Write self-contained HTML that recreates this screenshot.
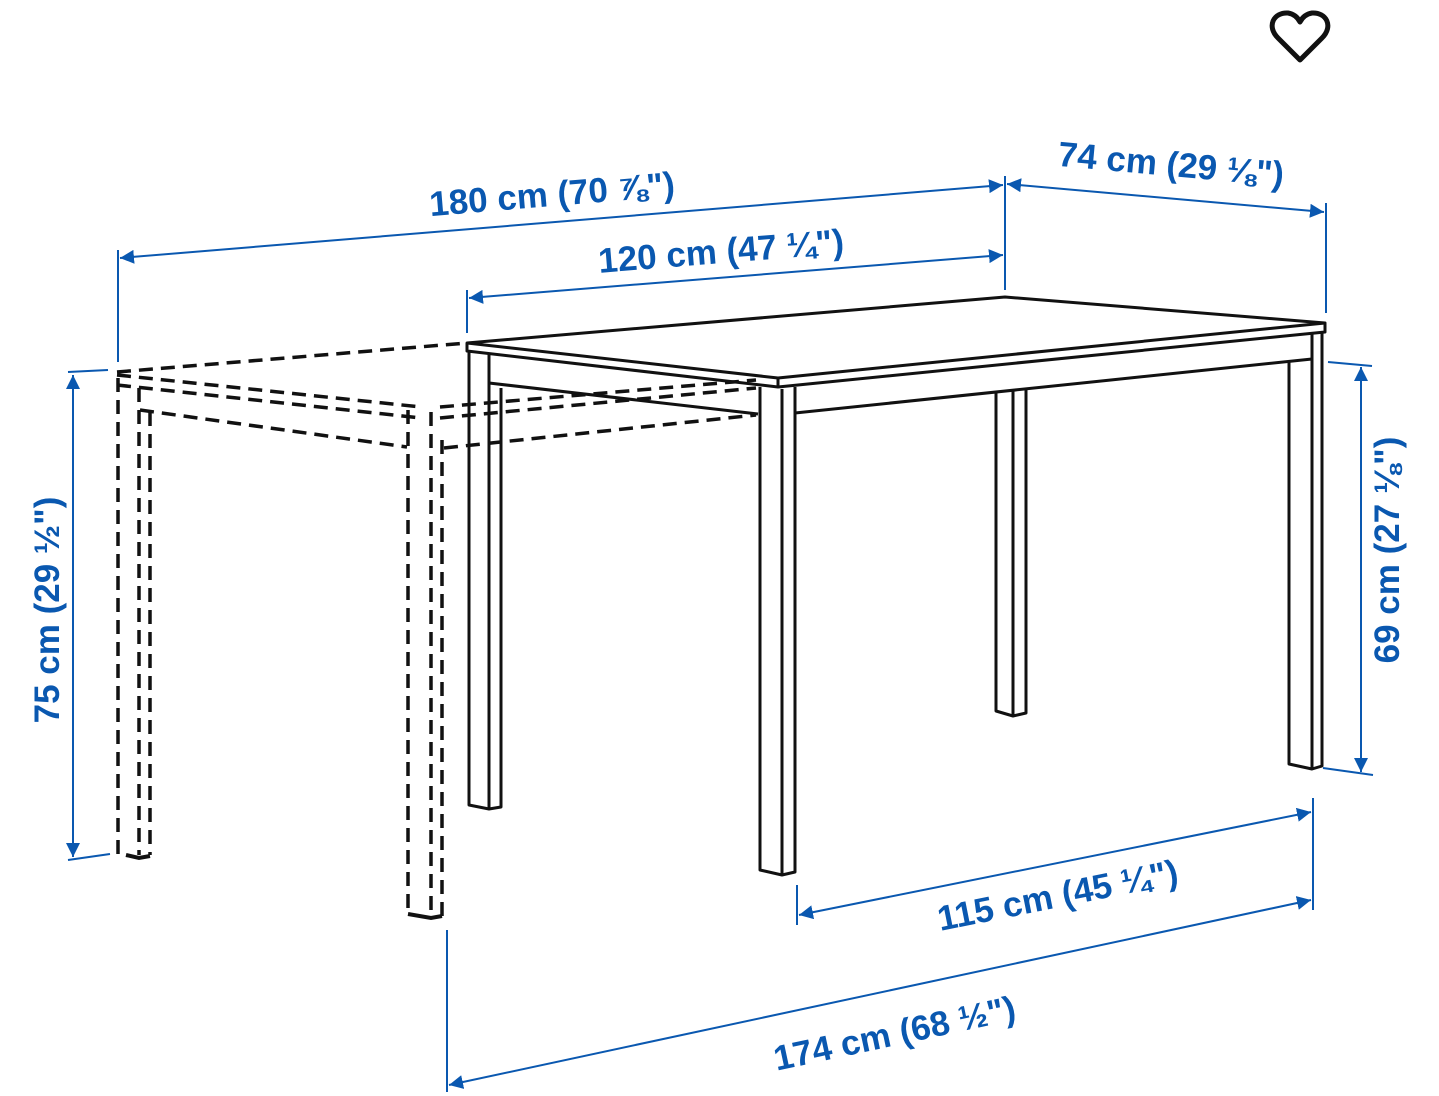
<!DOCTYPE html>
<html><head><meta charset="utf-8"><style>
html,body{margin:0;padding:0;background:#fff;width:1439px;height:1096px;overflow:hidden}
svg{display:block}
text{font-family:"Liberation Sans",sans-serif;font-weight:bold;font-size:35px;fill:#0a58b0}
</style></head><body>
<svg width="1439" height="1096" viewBox="0 0 1439 1096" xmlns="http://www.w3.org/2000/svg">
<defs>
<marker id="a" viewBox="0 0 10 10" refX="10" refY="5" markerWidth="14" markerHeight="14" markerUnits="userSpaceOnUse" orient="auto-start-reverse"><path d="M0,0L10,5L0,10z" fill="#0a58b0"/></marker>
</defs>
<path d="M1300,60 L1278,38 C1266,26 1274,12 1288,13 C1294,14 1298,18 1300,22 C1302,18 1306,14 1312,13 C1326,12 1334,26 1322,38 Z" fill="none" stroke="#111" stroke-width="5" stroke-linejoin="round"/>

<g stroke="#0a58b0" stroke-width="2" fill="none">
<line x1="118" y1="250" x2="118" y2="362"/>
<line x1="1005" y1="176" x2="1005" y2="290"/>
<line x1="467" y1="290" x2="467" y2="333"/>
<line x1="1326" y1="203" x2="1326" y2="313"/>
<line x1="120" y1="258" x2="1003" y2="185" marker-start="url(#a)" marker-end="url(#a)"/>
<line x1="469" y1="298" x2="1003" y2="255" marker-start="url(#a)" marker-end="url(#a)"/>
<line x1="1007" y1="184" x2="1324" y2="212" marker-start="url(#a)" marker-end="url(#a)"/>
<line x1="68" y1="372" x2="108" y2="370"/>
<line x1="73" y1="375" x2="73" y2="857" marker-start="url(#a)" marker-end="url(#a)"/>
<line x1="68" y1="860" x2="110" y2="854"/>
<line x1="1328" y1="362" x2="1372" y2="366"/>
<line x1="1361" y1="367" x2="1361" y2="772" marker-start="url(#a)" marker-end="url(#a)"/>
<line x1="1323" y1="768" x2="1373" y2="775"/>
<line x1="797" y1="885" x2="797" y2="925"/>
<line x1="1313" y1="798" x2="1313" y2="910"/>
<line x1="799" y1="915" x2="1311" y2="812" marker-start="url(#a)" marker-end="url(#a)"/>
<line x1="447" y1="930" x2="447" y2="1092"/>
<line x1="449" y1="1085" x2="1311" y2="900" marker-start="url(#a)" marker-end="url(#a)"/>
</g>

<text x="553" y="206" text-anchor="middle" transform="rotate(-4.7 553 206)">180 cm (70 ⅞")</text>
<text x="722" y="263" text-anchor="middle" transform="rotate(-4.6 722 263)">120 cm (47 ¼")</text>
<text x="1170" y="176" text-anchor="middle" transform="rotate(5.2 1170 176)">74 cm (29 ⅛")</text>
<text x="47" y="610" text-anchor="middle" transform="rotate(-90 47 610) translate(0 12)">75 cm (29 ½")</text>
<text x="1387" y="550" text-anchor="middle" transform="rotate(-90 1387 550) translate(0 12)">69 cm (27 ⅛")</text>
<text x="1060" y="907" text-anchor="middle" transform="rotate(-11.3 1060 907)">115 cm (45 ¼")</text>
<text x="897" y="1045" text-anchor="middle" transform="rotate(-12.1 897 1045)">174 cm (68 ½")</text>

<g stroke="#111" stroke-width="3.5" fill="none" stroke-dasharray="14 8">
<line x1="117" y1="372" x2="467" y2="343"/>
<line x1="117" y1="375" x2="421" y2="407"/>
<line x1="117" y1="385" x2="421" y2="418"/>
<line x1="140" y1="410" x2="407" y2="447"/>
<line x1="440" y1="407" x2="756" y2="380"/>
<line x1="440" y1="418" x2="756" y2="388"/>
<line x1="444" y1="448" x2="756" y2="415"/>
<line x1="118" y1="378" x2="118" y2="855"/>
<line x1="139" y1="388" x2="139" y2="855"/>
<line x1="150" y1="412" x2="150" y2="855"/>
<line x1="408" y1="410" x2="408" y2="915"/>
<line x1="431" y1="412" x2="431" y2="918"/>
<line x1="442" y1="440" x2="442" y2="918"/>
</g>
<g stroke="#111" stroke-width="4" fill="none">
<path d="M126,855 L139,858 L150,856"/>
<path d="M408,914 L431,918 L442,916"/>
</g>

<g stroke="#111" stroke-width="3" fill="none" stroke-linejoin="round">
<path d="M467,343 L1005,297 L1325,323 L778,378 Z"/>
<path d="M467,343 L467,351 L778,387 L1325,332 L1325,323"/>
<line x1="778" y1="378" x2="778" y2="387"/>
<line x1="489" y1="383" x2="758" y2="414"/>
<line x1="795" y1="413" x2="1312" y2="359"/>
<path d="M469,351 L469,805 L489,809 L501,807 L501,388"/>
<line x1="489" y1="354" x2="489" y2="809"/>
<path d="M760,387 L760,870 L782,875 L795,872 L795,387"/>
<line x1="782" y1="389" x2="782" y2="875"/>
<path d="M996,392 L996,711 L1013,716 L1026,713 L1026,390"/>
<line x1="1013" y1="391" x2="1013" y2="716"/>
<path d="M1289,361 L1289,764 L1312,769 L1322,766 L1322,333"/>
<line x1="1312" y1="334" x2="1312" y2="769"/>
</g>
</svg>
</body></html>
